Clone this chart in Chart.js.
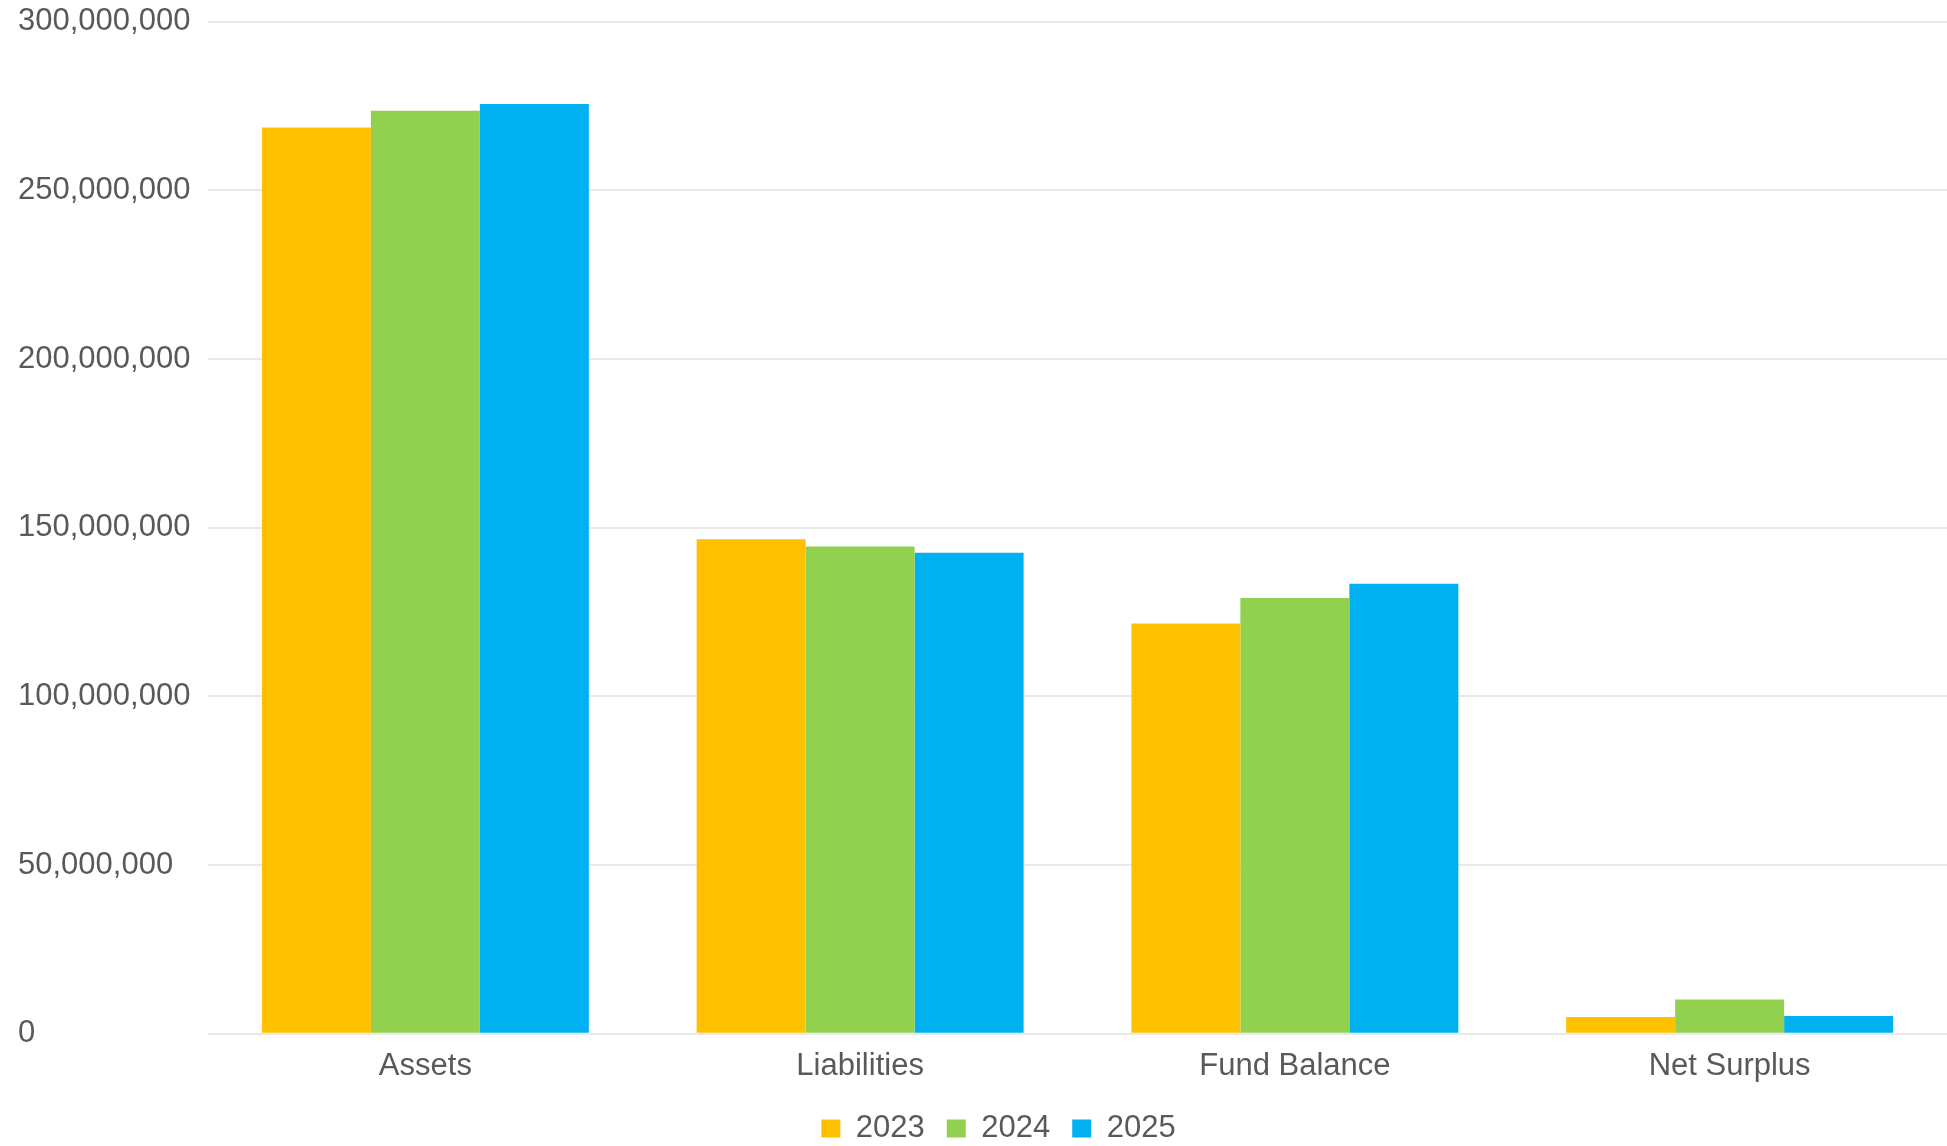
<!DOCTYPE html>
<html>
<head>
<meta charset="utf-8">
<script src="https://cdn.jsdelivr.net/npm/chart.js@4.4.1/dist/chart.umd.min.js"></script>
<style>
  html, body { margin: 0; padding: 0; background: #fff; }
  #wrap { width: 1947px; height: 1146px; }
</style>
</head>
<body>
<div id="wrap"><canvas id="chart"></canvas></div>
<script>
// categories and yearly values
const categories = ['Assets', 'Liabilities', 'Fund Balance', 'Net Surplus'];
const years = ['2023', '2024', '2025'];
const values2023 = [268600000, 146600000, 121600000, 5000000];
const values2024 = [273600000, 144400000, 129200000, 10200000];
const values2025 = [275600000, 142600000, 133400000, 5300000];
const colors = ['#FFC000', '#92D050', '#00B0F0'];

const textColor = '#595959';
const font = { family: "'Liberation Sans', Arial, sans-serif", size: 31 };

const series = [values2023, values2024, values2025];

// the legend in the original sits a little right of centre
const legendNudge = {
    id: 'legendNudge',
    afterLayout(chart) {
        const lg = chart.legend;
        if (!lg) return;
        lg.left += 16;
        lg.right += 16;
    }
};

const chart = new Chart(document.getElementById('chart'), {
    type: 'bar',
    data: {
        labels: categories,
        datasets: years.map((y, i) => ({
            label: y,
            data: series[i],
            backgroundColor: colors[i],
            borderWidth: 0,
            categoryPercentage: 0.752,
            barPercentage: 1.0
        }))
    },
    options: {
        responsive: true,
        maintainAspectRatio: false,
        animation: false,
        layout: { padding: { top: 7, left: 18, right: 0, bottom: -8 } },
        plugins: {
            legend: {
                position: 'bottom',
                labels: {
                    color: textColor,
                    font: font,
                    boxWidth: 19,
                    boxHeight: 18,
                    padding: 22
                }
            },
            tooltip: { enabled: false }
        },
        scales: {
            x: {
                grid: { display: false },
                border: { display: false },
                ticks: { color: textColor, font: font, padding: 6 }
            },
            y: {
                min: 0,
                max: 300000000,
                border: { display: false },
                grid: { color: '#e9e9e9', lineWidth: 2, drawTicks: false },
                afterFit: scale => { scale.width = 190; },
                ticks: {
                    stepSize: 50000000,
                    color: textColor,
                    font: font,
                    crossAlign: 'far',
                    callback: v => v.toLocaleString('en-US')
                }
            }
        }
    },
    plugins: [legendNudge]
});
</script>
</body>
</html>
